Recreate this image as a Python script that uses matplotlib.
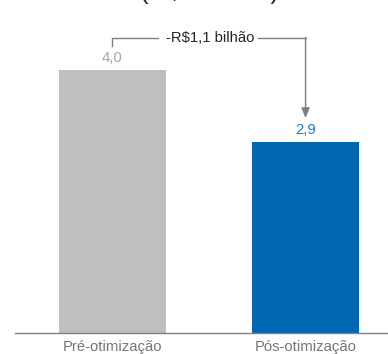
import matplotlib
matplotlib.use("Agg")
import matplotlib.pyplot as plt

plt.rcParams['font.family'] = ['Liberation Sans', 'DejaVu Sans']

categories = ["Pré-otimização", "Pós-otimização"]
values = [4.0, 2.9]
value_labels = ["4,0", "2,9"]
delta_label = "-R$1,1 bilhão"
title = "(R$ bilhões)"

bar_colors = ["#BFBFBF", "#0068B3"]
label_colors = ["#A6A6A6", "#1E7AD0"]

fig = plt.figure(figsize=(3.88, 3.54), dpi=100)
ax = fig.add_axes([15/388, 21/354, 373/388, 333/354])
x = [0, 1]
ax.bar(x, values, width=0.554, color=bar_colors)
ax.set_xlim(-0.505, 1.427)
ax.set_ylim(0, 5.065)
for s in ["top", "right", "left"]:
    ax.spines[s].set_visible(False)
ax.spines["bottom"].set_color("#808080")
ax.spines["bottom"].set_linewidth(1.0)
ax.set_yticks([])
ax.set_xticks(x)
ax.set_xticklabels(categories, fontsize=10.7, color="#757575")
ax.tick_params(axis='x', length=0, pad=5)

for xi, v, lab, c in zip(x, values, value_labels, label_colors):
    ax.text(xi, v + 0.08, lab, ha='center', va='bottom', fontsize=10.7, color=c)

# bracket
off = 0.37
top = 4.49
lc = "#7F7F7F"
ax.plot([x[0], x[0], 0.236], [values[0] + off, top, top], color=lc, lw=1.0, clip_on=False)
ax.plot([0.754, x[1]], [top, top], color=lc, lw=1.0, clip_on=False)
ax.annotate("", xy=(x[1], values[1] + off), xytext=(x[1], top + 0.006),
            arrowprops=dict(arrowstyle="-|>,head_length=0.6,head_width=0.25", color=lc, lw=1.0,
                            shrinkA=0, shrinkB=0))
ax.text(0.505, top, delta_label, ha='center', va='center', fontsize=10.7, color="#262626")

fig.text(209/388, 1 + 1.0/354, title, ha='center', va='baseline', fontsize=18.5, color="#262626")

fig.savefig("out.png", dpi=100)
